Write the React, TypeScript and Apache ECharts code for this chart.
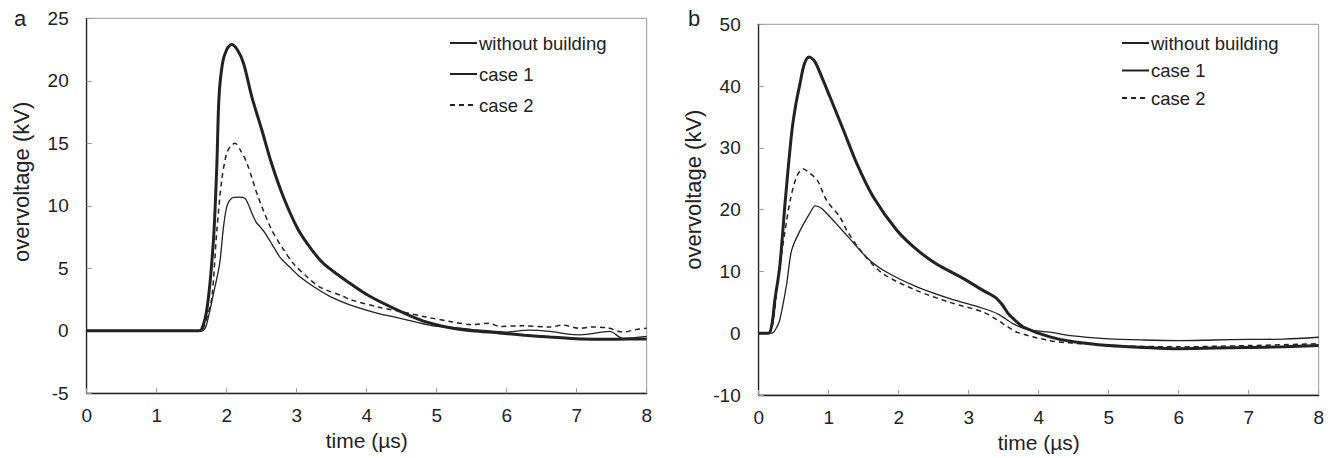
import React, { useEffect, useRef } from "react";
import * as echarts from "echarts";

const seriesNames = ["without building", "case 1", "case 2"];

// Panel a: overvoltage (kV) vs time (µs)
const aWithout: number[][] = [
  [0, 0], [1.6, 0], [1.64, 0.1], [1.7, 1.2], [1.74, 2.7], [1.78, 5.0], [1.82, 8.1], [1.86, 13.4],
  [1.89, 18.7], [1.94, 21.4], [2.0, 22.5], [2.07, 22.9], [2.15, 22.5], [2.24, 21.4], [2.36, 18.7],
  [2.5, 16.1], [2.64, 13.4], [2.81, 10.7], [3.02, 8.1], [3.2, 6.6], [3.38, 5.4], [3.76, 3.8],
  [4.05, 2.74], [4.48, 1.55], [4.8, 0.8], [5.19, 0.24], [5.5, 0.0], [5.9, -0.17], [6.25, -0.35],
  [6.62, -0.5], [7.05, -0.65], [7.57, -0.67], [8, -0.65],
];
const aCase1: number[][] = [
  [0, 0], [1.65, 0], [1.7, 0.3], [1.75, 1.4], [1.82, 3.2], [1.9, 5.4], [1.95, 8.1], [2.0, 9.9],
  [2.07, 10.6], [2.17, 10.7], [2.26, 10.6], [2.31, 10.1], [2.36, 9.4], [2.42, 8.7], [2.48, 8.3],
  [2.55, 7.8], [2.65, 6.9], [2.76, 5.9], [2.9, 5.1], [3.05, 4.3], [3.25, 3.5], [3.48, 2.74],
  [3.76, 2.08], [4.16, 1.4], [4.48, 1.0], [4.95, 0.4], [5.19, 0.3], [5.5, 0.1], [5.76, 0.0],
  [6.0, -0.1], [6.3, 0.05], [6.62, -0.05], [6.85, -0.25], [7.05, -0.32], [7.47, -0.05],
  [7.66, -0.6], [8, -0.45],
];
const aCase2: number[][] = [
  [0, 0], [1.63, 0], [1.68, 0.4], [1.74, 1.5], [1.79, 2.7], [1.86, 8.1], [1.93, 12.1], [2.0, 14.2],
  [2.06, 14.8], [2.12, 15.0], [2.2, 14.4], [2.29, 13.4], [2.45, 10.7], [2.64, 8.1], [2.8, 6.6],
  [2.95, 5.4], [3.15, 4.3], [3.33, 3.5], [3.67, 2.74], [3.76, 2.5], [4.19, 1.87], [4.48, 1.55],
  [4.85, 1.1], [5.19, 0.75], [5.5, 0.5], [5.75, 0.6], [5.9, 0.35], [6.2, 0.4], [6.62, 0.3],
  [6.8, 0.45], [7.05, 0.2], [7.2, 0.3], [7.43, 0.25], [7.66, -0.1], [7.85, 0.1], [8, 0.2],
];

// Panel b
const bWithout: number[][] = [
  [0, 0], [0.14, 0], [0.19, 1.5], [0.23, 5.3], [0.3, 10.7], [0.38, 21.5], [0.47, 32.3], [0.53, 37],
  [0.59, 40.4], [0.65, 43.5], [0.72, 44.7], [0.8, 44.0], [0.9, 41.5], [1.02, 38.2], [1.21, 32.9],
  [1.4, 27.5], [1.64, 22.0], [1.97, 16.7], [2.25, 13.6], [2.54, 11.2], [2.9, 9.0], [3.21, 6.9],
  [3.38, 5.8], [3.48, 4.6], [3.57, 3.1], [3.68, 1.9], [3.78, 1.0], [4.16, -0.6], [4.45, -1.3],
  [5.0, -2.0], [5.5, -2.3], [6.0, -2.5], [6.5, -2.4], [7.0, -2.3], [7.5, -2.2], [8, -2.0],
];
const bCase1: number[][] = [
  [0, 0], [0.19, 0], [0.24, 0.6], [0.3, 2.1], [0.4, 8.0], [0.47, 13.4], [0.59, 16.6], [0.73, 19.4],
  [0.81, 20.6], [0.9, 20.2], [1.02, 18.8], [1.11, 17.7], [1.3, 15.3], [1.54, 12.3], [1.78, 10.2],
  [2.26, 7.5], [2.73, 5.6], [3.21, 4.0], [3.42, 3.1], [3.64, 1.5], [3.85, 0.6], [4.16, 0.16],
  [4.45, -0.4], [5.0, -0.9], [5.5, -1.1], [6.0, -1.2], [6.5, -1.1], [7.0, -1.0], [7.5, -0.95],
  [8, -0.65],
];
const bCase2: number[][] = [
  [0, 0], [0.14, 0], [0.2, 1.5], [0.26, 7], [0.3, 10.7], [0.37, 16.1], [0.45, 21.5], [0.54, 25.3],
  [0.63, 26.6], [0.72, 26.0], [0.84, 24.7], [0.97, 21.5], [1.16, 18.8], [1.26, 16.6], [1.49, 12.9],
  [1.78, 9.6], [2.26, 6.9], [2.73, 5.0], [3.21, 3.4], [3.42, 2.06], [3.55, 1.1], [3.69, 0.16],
  [4.16, -1.2], [4.6, -1.7], [5.0, -2.0], [6.0, -2.2], [7.0, -2.0], [8, -1.7],
];

const FONT = "Liberation Sans";
const INK = "#222";
const GRAY = "#999";

function makeX(gridIndex: number) {
  return {
    type: "value" as const,
    gridIndex,
    min: 0,
    max: 8,
    interval: 1,
    name: "time (µs)",
    nameLocation: "middle" as const,
    nameGap: 30,
    nameTextStyle: { fontFamily: FONT, fontSize: 21, color: INK },
    axisLine: { show: true, onZero: false, lineStyle: { color: INK, width: 1.3 } },
    axisTick: { show: true, inside: true, length: 5, lineStyle: { color: GRAY } },
    axisLabel: { fontFamily: FONT, fontSize: 19, color: INK, margin: 13 },
    splitLine: { show: false },
  };
}
function makeY(gridIndex: number, min: number, max: number, interval: number, shiftUp: number) {
  return {
    type: "value" as const,
    gridIndex,
    min,
    max,
    interval,
    name: "overvoltage (kV)",
    nameLocation: "middle" as const,
    nameGap: 54,
    nameTextStyle: { fontFamily: FONT, fontSize: 22, color: INK, padding: [0, 0, 0, shiftUp * 2] },
    axisLine: { show: true, onZero: false, lineStyle: { color: INK, width: 1.3 } },
    axisTick: { show: true, inside: true, length: 5, lineStyle: { color: GRAY } },
    axisLabel: { fontFamily: FONT, fontSize: 19, color: INK, margin: 18 },
    splitLine: { show: false },
  };
}

const styles = [
  { width: 3, type: "solid" as const },
  { width: 1.3, type: "solid" as const },
  { width: 1.5, type: [5, 4] as any },
];

function line(name: string, idx: number, data: number[][], k: number) {
  return {
    type: "line" as const,
    name,
    xAxisIndex: idx,
    yAxisIndex: idx,
    data,
    symbol: "none",
    smooth: 0.3,
    lineStyle: { color: INK, width: styles[k].width, type: styles[k].type },
    itemStyle: { color: INK },
    z: 3 - k,
  };
}

const legendCommon = {
  orient: "vertical" as const,
  padding: 0,
  itemWidth: 27,
  itemHeight: 14,
  itemStyle: { color: "transparent", borderWidth: 0, opacity: 0 },
  textStyle: { fontFamily: FONT, fontSize: 18.5, color: INK, lineHeight: 20, padding: [0, 0, 0, -3] },
};

export default function App() {
  const ref = useRef<HTMLDivElement>(null);
  useEffect(() => {
    document.body.style.margin = "0";
    const chart = echarts.init(ref.current!, null, { renderer: "svg" });
    chart.setOption({
      animation: false,
      backgroundColor: "#fff",
      grid: [
        { left: 86.7, top: 18.3, width: 560, height: 375, show: true, borderColor: GRAY, borderWidth: 1, containLabel: false },
        { left: 758.7, top: 24.3, width: 560, height: 370.7, show: true, borderColor: GRAY, borderWidth: 1, containLabel: false },
      ],
      xAxis: [makeX(0), makeX(1)],
      yAxis: [makeY(0, -5, 25, 5, 24), makeY(1, -10, 50, 10, 20)],
      legend: [
        { ...legendCommon, data: seriesNames, left: 449, top: 33, itemGap: 11 },
        { ...legendCommon, data: seriesNames, left: 1121, top: 33, itemGap: 7.5 },
      ],
      graphic: [
        { type: "text", left: 14, top: 7, style: { text: "a", fontFamily: FONT, fontSize: 22, fill: INK } },
        { type: "text", left: 688, top: 7, style: { text: "b", fontFamily: FONT, fontSize: 22, fill: INK } },
      ],
      series: [
        line(seriesNames[0], 0, aWithout, 0),
        line(seriesNames[1], 0, aCase1, 1),
        line(seriesNames[2], 0, aCase2, 2),
        line(seriesNames[0], 1, bWithout, 0),
        line(seriesNames[1], 1, bCase1, 1),
        line(seriesNames[2], 1, bCase2, 2),
      ],
    });
    return () => chart.dispose();
  }, []);
  return <div ref={ref} style={{ width: 1331, height: 458 }} />;
}
